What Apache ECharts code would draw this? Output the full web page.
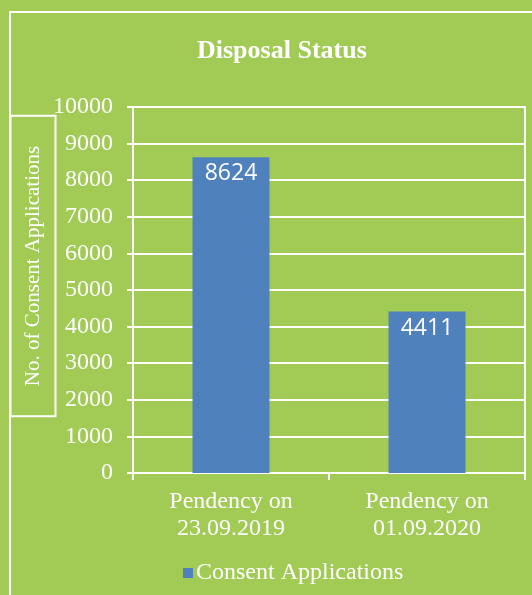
<!DOCTYPE html>
<html>
<head>
<meta charset="utf-8">
<script src="https://cdn.jsdelivr.net/npm/echarts@6/dist/echarts.min.js"></script>
<style>
  html, body { margin: 0; padding: 0; background: #a2cb56; }
  #chart { width: 532px; height: 595px; }
</style>
</head>
<body>
<div id="chart"></div>
<script>
// data
var categories = ["Pendency on\n23.09.2019", "Pendency on\n01.09.2020"];
var seriesName = "Consent Applications";
var values = [8624, 4411];
var yTicks = { min: 0, max: 10000, interval: 1000 };

var serif = "'Liberation Serif', 'Times New Roman', serif";
var green = "#a2cb56";
var blue = "#4f81bd";

var option = {
  backgroundColor: green,
  animation: false,
  title: {
    text: "Disposal Status",
    left: 192,
    top: 33,
    textStyle: {
      color: "#fff",
      fontFamily: serif,
      fontWeight: "bold",
      fontSize: 26
    }
  },
  legend: {
    left: 178,
    top: 556,
    icon: "rect",
    itemWidth: 10,
    itemHeight: 10,
    itemGap: 6,
    textStyle: { color: "#fff", fontFamily: serif, fontSize: 24, padding: [0, 0, 0, -2] },
    data: [seriesName]
  },
  grid: {
    left: 133,
    right: 7,
    top: 107,
    bottom: 122,
    show: true,
    borderColor: "#fff",
    borderWidth: 2,
    backgroundColor: "transparent"
  },
  // outer frame + y axis title box
  graphic: [
    {
      type: "rect",
      z: -1,
      shape: { x: 10, y: 12, width: 700, height: 700 },
      style: { fill: "none", stroke: "#fff", lineWidth: 2 }
    },
    {
      type: "text",
      x: 33,
      y: 266,
      rotation: Math.PI / 2,
      style: {
        text: "No. of Consent Applications",
        fill: "#fff",
        font: "21px " + serif,
        align: "center",
        verticalAlign: "middle",
        padding: [12, 30],
        lineHeight: 21,
        borderColor: "#fff",
        borderWidth: 2
      }
    }
  ],
  xAxis: {
    type: "category",
    data: categories,
    axisLine: { lineStyle: { color: "#fff", width: 2 } },
    axisTick: { show: true, length: 7, lineStyle: { color: "#fff", width: 2 } },
    axisLabel: {
      color: "#fff",
      fontFamily: serif,
      fontSize: 24,
      lineHeight: 27,
      margin: 15
    }
  },
  yAxis: {
    type: "value",
    min: yTicks.min,
    max: yTicks.max,
    interval: yTicks.interval,
    axisLine: { show: true, lineStyle: { color: "#fff", width: 2 } },
    axisTick: { show: true, length: 6, lineStyle: { color: "#fff", width: 2 } },
    axisLabel: {
      color: "#fff",
      fontFamily: serif,
      fontSize: 24,
      margin: 20,
      formatter: function (v) { return String(v); }
    },
    splitLine: { lineStyle: { color: "#fff", width: 2 } }
  },
  series: [
    {
      name: seriesName,
      type: "bar",
      data: values,
      barWidth: 77,
      itemStyle: { color: blue },
      label: {
        show: true,
        position: "insideTop",
        distance: 5,
        color: "#fff",
        fontFamily: "'Open Sans', 'Noto Sans', sans-serif",
        fontSize: 23
      }
    }
  ]
};

var myChart = echarts.init(document.getElementById("chart"));
myChart.setOption(option);
</script>
</body>
</html>
